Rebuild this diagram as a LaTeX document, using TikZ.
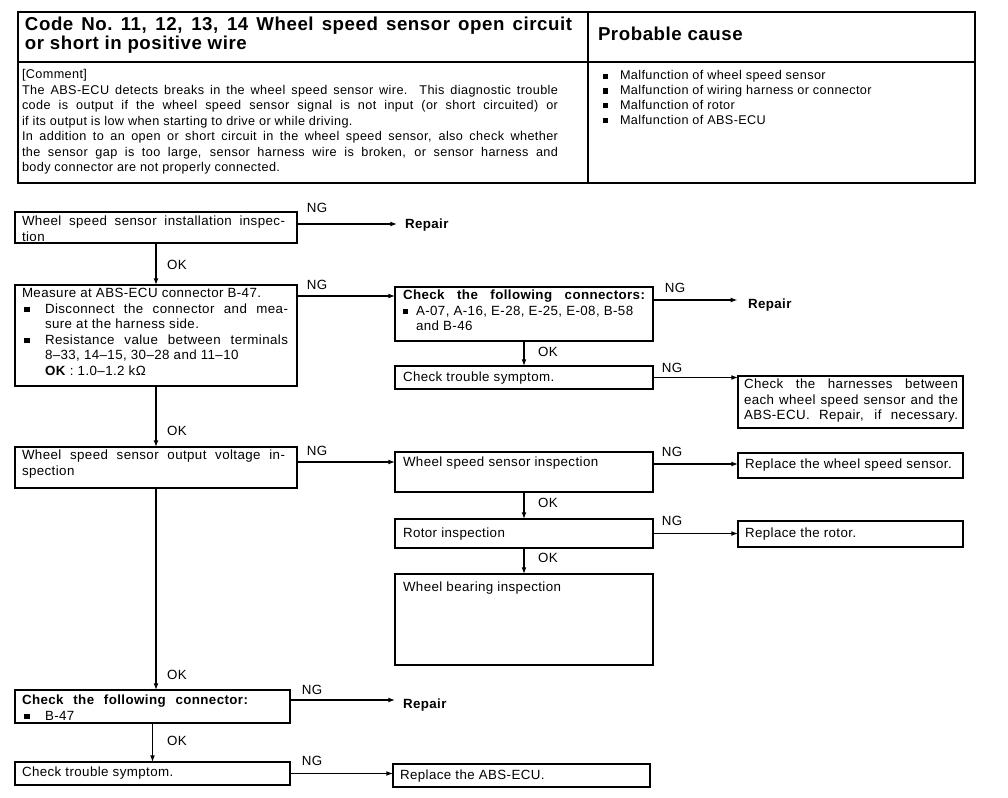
\documentclass[tikz,border=0pt]{standalone}
\usepackage{fontspec}
\setmainfont{Liberation Sans}[LetterSpace=3]
\usetikzlibrary{arrows.meta,calc}
\newdimen\pxu \pxu=0.75pt
\newcommand\jl[2]{\makebox[#1\pxu][s]{#2}}
\newcommand\bul{\raisebox{0.1em}{\rule{0.4em}{0.4em}}}
\newcommand\bx[5]{\node[box, minimum width={(#4-#2)*0.75pt}, minimum height={(#5-#3)*0.75pt}] (#1) at ({(#2+#4)/2},{(#3+#5)/2}) {};}
\newcommand\tx[4]{\node[txt] (#1) at (#2,#3) {\parbox[t]{420\pxu}{#4}};}
\tikzset{
 box/.style={draw, line width=1.2pt, inner sep=0pt, outer sep=0pt, rectangle},
 txt/.style={inner sep=0pt, outer sep=0pt, anchor=base west, font=\fontsize{10}{11.6}\selectfont},
 lbl/.style={inner sep=0pt, outer sep=0pt, font=\fontsize{10}{11.6}\selectfont},
 rep/.style={inner sep=0pt, outer sep=0pt, anchor=west, font=\fontsize{10}{11.6}\selectfont\bfseries},
 arr/.style={line width=0.8pt, -{Latex[length=5pt,width=3.6pt]}},
}
\begin{document}
\begin{tikzpicture}[x=0.75pt,y=-0.75pt]
\useasboundingbox (0,0) rectangle (1008,798);
% ---------- header table ----------
\bx{hdr}{18}{12}{975}{183}
\draw[line width=1.2pt] (588,12) -- (588,183);
\draw[line width=1.2pt] (18,62) -- (975,62);
\node[txt, font=\fontsize{14}{12.5}\selectfont\bfseries] (ttl) at (25,31)
 {\parbox[t]{560\pxu}{\jl{547}{Code No.\ 11, 12, 13, 14 Wheel speed sensor open circuit}\\or short in positive wire}};
\node[txt, font=\fontsize{14}{12.5}\selectfont\bfseries] (pc) at (598,41) {Probable cause};
\node[txt, font=\fontsize{9.5}{11.6}\selectfont] (cmt) at (22,79)
 {\parbox[t]{560\pxu}{[Comment]\\
 \jl{536}{The ABS-ECU detects breaks in the wheel speed sensor wire.\ \ This diagnostic trouble}\\
 \jl{536}{code is output if the wheel speed sensor signal is not input (or short circuited) or}\\
 if its output is low when starting to drive or while driving.\\
 \jl{536}{In addition to an open or short circuit in the wheel speed sensor, also check whether}\\
 \jl{536}{the sensor gap is too large, sensor harness wire is broken, or sensor harness and}\\
 body connector are not properly connected.}};
\node[txt, font=\fontsize{9.5}{11.1}\selectfont] (pcl) at (603,80)
 {\parbox[t]{360\pxu}{\makebox[17\pxu][l]{\bul}Malfunction of wheel speed sensor\\
 \makebox[17\pxu][l]{\bul}Malfunction of wiring harness or connector\\
 \makebox[17\pxu][l]{\bul}Malfunction of rotor\\
 \makebox[17\pxu][l]{\bul}Malfunction of ABS-ECU}};
% ---------- left column ----------
\bx{A}{15}{212}{297}{243}
\tx{tA}{22}{226}{\jl{263}{Wheel speed sensor installation inspec-}\\tion}
\bx{B}{15}{285}{297}{386}
\tx{tB}{22}{298}{Measure at ABS-ECU connector B-47.\\
 \makebox[23\pxu][l]{\,\bul}\jl{243}{Disconnect the connector and mea-}\\
 \hspace*{23\pxu}sure at the harness side.\\
 \makebox[23\pxu][l]{\,\bul}\jl{243}{Resistance value between terminals}\\
 \hspace*{23\pxu}8–33, 14–15, 30–28 and 11–10\\
 \hspace*{23\pxu}\textbf{OK} : 1.0–1.2 kΩ}
\bx{C}{15}{447}{297}{488}
\tx{tC}{22}{460}{\jl{263}{Wheel speed sensor output voltage in-}\\spection}
\bx{D}{15}{690}{290}{723}
\tx{tD}{22}{705}{\jl{226}{\bfseries Check the following connector:}\\
 \makebox[23\pxu][l]{\,\bul}B-47}
\bx{E}{15}{762}{290}{785}
\tx{tE}{22}{777}{Check trouble symptom.}
% ---------- right column ----------
\bx{F}{395}{287}{653}{341}
\tx{tF}{403}{300}{\jl{242}{\bfseries Check the following connectors:}\\
 \makebox[13\pxu][l]{\bul}A-07, A-16, E-28, E-25, E-08, B-58\\
 \hspace*{13\pxu}and B-46}
\bx{G}{395}{366}{653}{389}
\tx{tG}{403}{382}{Check trouble symptom.}
\bx{H}{738}{376}{963}{428}
\tx{tH}{744}{389}{\jl{214}{Check the harnesses between}\\
 \jl{214}{each wheel speed sensor and the}\\
 \jl{214}{ABS-ECU. Repair, if necessary.}}
\bx{I}{395}{452}{653}{492}
\tx{tI}{403}{467}{Wheel speed sensor inspection}
\bx{J}{738}{453}{963}{478}
\tx{tJ}{745}{469}{Replace the wheel speed sensor.}
\bx{K}{395}{519}{653}{548}
\tx{tK}{403}{538}{Rotor inspection}
\bx{L}{738}{521}{963}{547}
\tx{tL}{745}{538}{Replace the rotor.}
\bx{M}{395}{574}{653}{665}
\tx{tM}{403}{592}{Wheel bearing inspection}
\bx{N}{393}{764}{650}{787}
\tx{tN}{400}{779}{Replace the ABS-ECU.}
% ---------- end texts ----------
\node[rep] (rA) at (405,225) {Repair};
\node[rep] (rF) at (748,305) {Repair};
\node[rep] (rD) at (403,705) {Repair};
% ---------- NG / OK labels ----------
\node[lbl] (ngA) at (317,208) {NG};
\node[lbl] (ngB) at (317,285) {NG};
\node[lbl] (ngC) at (317,451) {NG};
\node[lbl] (ngD) at (312,690) {NG};
\node[lbl] (ngE) at (312,761) {NG};
\node[lbl] (ngF) at (675,288) {NG};
\node[lbl] (ngG) at (672,368) {NG};
\node[lbl] (ngI) at (672,452) {NG};
\node[lbl] (ngK) at (672,521) {NG};
\node[lbl] (okA) at (177,265) {OK};
\node[lbl] (okB) at (177,431) {OK};
\node[lbl] (okC) at (177,675) {OK};
\node[lbl] (okD) at (177,741) {OK};
\node[lbl] (okF) at (548,352) {OK};
\node[lbl] (okI) at (548,503) {OK};
\node[lbl] (okK) at (548,558) {OK};
% ---------- connectors ----------
\draw[arr, shorten >=6pt] ([yshift=-9pt]A.north east) coordinate (cA) -- (cA -| rA.west);
\draw[arr] ([yshift=-8.25pt]B.north east) coordinate (cB) -- (cB -| F.west);
\draw[arr] ([yshift=-11.25pt]C.north east) coordinate (cC) -- (cC -| I.west);
\draw[arr, shorten >=6pt] ([yshift=-7.5pt]D.north east) coordinate (cD) -- (cD -| rD.west);
\draw[arr] (E.east) -- (E.east -| N.west);
\draw[arr, shorten >=8pt] ([yshift=-9.75pt]F.north east) coordinate (cF) -- (cF -| rF.west);
\draw[arr] (G.east) -- (G.east -| H.west);
\draw[arr] ([yshift=-9pt]I.north east) coordinate (cI) -- (cI -| J.west);
\draw[arr] (K.east) -- (K.east -| L.west);
\draw[arr] (A.south) -- (A.south |- B.north);
\draw[arr] (B.south) -- (B.south |- C.north);
\draw[arr] (C.south) -- (C.south |- D.north);
\draw[arr] (D.south) -- (D.south |- E.north);
\draw[arr] (F.south) -- (F.south |- G.north);
\draw[arr] (I.south) -- (I.south |- K.north);
\draw[arr] (K.south) -- (K.south |- M.north);
\end{tikzpicture}
\end{document}
